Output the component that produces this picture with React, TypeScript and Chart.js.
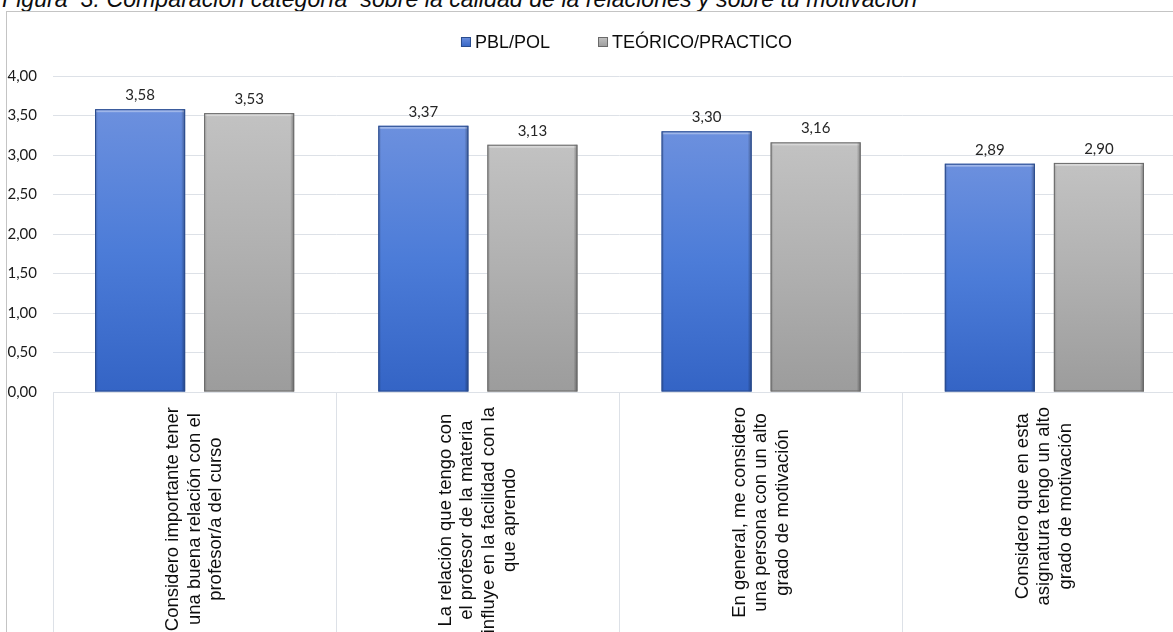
import React, { useEffect, useRef } from 'react';
import { Chart, registerables } from 'chart.js';

Chart.register(...registerables);

// ---------- data ----------
const TITLE = 'Figura  3. Comparación categoría  sobre la calidad de la relaciones y sobre tu motivación';

const categories: string[][] = [
  ['Considero importante tener', 'una buena relación con el', 'profesor/a del curso'],
  ['La relación que tengo con', 'el profesor de la materia', 'influye en la facilidad con la', 'que aprendo'],
  ['En general, me considero', 'una persona con un alto', 'grado de motivación'],
  ['Considero que en esta', 'asignatura tengo un alto', 'grado de motivación'],
];

const seriesNames = ['PBL/POL', 'TEÓRICO/PRACTICO'];
const pblValues = [3.58, 3.37, 3.3, 2.89];
const teoricoValues = [3.53, 3.13, 3.16, 2.9];
const yTickValues = [0, 0.5, 1, 1.5, 2, 2.5, 3, 3.5, 4];

// ---------- styles ----------
const BLUE_STOPS = ['#6c90de', '#4c7cd8', '#3464c5'];
const BLUE_EDGE = '#2a4c8e';
const GRAY_STOPS = ['#c2c2c2', '#b0b0b0', '#9c9c9c'];
const GRAY_EDGE = '#6a6a6a';
const GRID = '#dde1e7';
const NUM_FONT = 'Lato, "Liberation Sans", sans-serif';
const TXT_FONT = '"Liberation Sans", Arial, sans-serif';

const fmt = (v: number) => v.toFixed(2).replace('.', ',');

function barGradient(stops: string[]) {
  return (ctx: any) => {
    const chart = ctx.chart;
    const ys = chart.scales && chart.scales.y;
    if (!ys || ctx.type !== 'data' || !ctx.parsed) return stops[1];
    const top = ys.getPixelForValue(ctx.parsed.y);
    const base = ys.getPixelForValue(0);
    if (!isFinite(top) || !isFinite(base) || Math.abs(top - base) < 1) return stops[1];
    const g = chart.ctx.createLinearGradient(0, top, 0, base);
    g.addColorStop(0, stops[0]);
    g.addColorStop(0.5, stops[1]);
    g.addColorStop(1, stops[2]);
    return g;
  };
}

const bevelPlugin = {
  id: 'bevel',
  afterDatasetsDraw(chart: any) {
    const c = chart.ctx;
    chart.data.datasets.forEach((ds: any, di: number) => {
      const meta = chart.getDatasetMeta(di);
      const edge = di === 0 ? BLUE_EDGE : GRAY_EDGE;
      meta.data.forEach((el: any) => {
        const { x, y, base, width } = el.getProps(['x', 'y', 'base', 'width'], true);
        const l = x - width / 2;
        const r = x + width / 2;
        c.save();
        c.fillStyle = 'rgba(255,255,255,0.35)';
        c.fillRect(l + 1, y + 1, width - 2, 2);
        const gr = c.createLinearGradient(r - 4, 0, r, 0);
        gr.addColorStop(0, 'rgba(0,0,0,0)');
        gr.addColorStop(1, 'rgba(0,0,0,0.35)');
        c.fillStyle = gr;
        c.fillRect(r - 4, y, 4, base - y);
        const gl = c.createLinearGradient(l, 0, l + 3, 0);
        gl.addColorStop(0, 'rgba(0,0,0,0.2)');
        gl.addColorStop(1, 'rgba(0,0,0,0)');
        c.fillStyle = gl;
        c.fillRect(l, y, 3, base - y);
        c.strokeStyle = edge;
        c.lineWidth = 1;
        c.strokeRect(l + 0.5, y + 0.5, width - 1, base - y - 1);
        c.restore();
      });
    });
  },
};

const dataLabelPlugin = {
  id: 'valueLabels',
  afterDatasetsDraw(chart: any) {
    const c = chart.ctx;
    c.save();
    c.font = `15px ${NUM_FONT}`;
    c.fillStyle = '#262626';
    c.textAlign = 'center';
    c.textBaseline = 'alphabetic';
    chart.data.datasets.forEach((ds: any, di: number) => {
      const meta = chart.getDatasetMeta(di);
      meta.data.forEach((el: any, i: number) => {
        c.fillText(fmt(ds.data[i]), el.x, el.y - 9);
      });
    });
    c.restore();
  },
};

const categoryLabelPlugin = {
  id: 'categoryLabels',
  afterDraw(chart: any) {
    const c = chart.ctx;
    const xs = chart.scales.x;
    const bottom = chart.chartArea.bottom;
    const lh = 21.5;
    c.save();
    c.font = `18.5px ${TXT_FONT}`;
    c.fillStyle = '#0d0d0d';
    c.textAlign = 'center';
    c.textBaseline = 'middle';
    categories.forEach((lines, i) => {
      const cx = xs.getPixelForTick(i);
      const maxW = Math.max(...lines.map((t) => c.measureText(t).width));
      const cy = bottom + 15 + maxW / 2;
      c.save();
      c.translate(cx, cy);
      c.rotate(-Math.PI / 2);
      lines.forEach((t, li) => {
        c.fillText(t, 0, (li - (lines.length - 1) / 2) * lh);
      });
      c.restore();
    });
    c.restore();
  },
};

const legendPlugin = {
  id: 'excelLegend',
  afterDraw(chart: any) {
    const c = chart.ctx;
    c.save();
    c.font = `18px ${TXT_FONT}`;
    c.textBaseline = 'middle';
    c.textAlign = 'left';
    const box = 10;
    const gapText = 4;
    const gapItem = 48;
    const widths = seriesNames.map((n) => box + gapText + c.measureText(n).width);
    const total = widths.reduce((a, b) => a + b, 0) + gapItem * (seriesNames.length - 1);
    const ca = chart.chartArea;
    let x = (ca.left + ca.right) / 2 + 7 - total / 2;
    const cy = 42;
    seriesNames.forEach((n, i) => {
      const stops = i === 0 ? BLUE_STOPS : GRAY_STOPS;
      const g = c.createLinearGradient(0, cy - box / 2, 0, cy + box / 2);
      g.addColorStop(0, stops[0]);
      g.addColorStop(1, stops[2]);
      c.fillStyle = g;
      c.fillRect(x, cy - box / 2, box, box);
      c.strokeStyle = i === 0 ? BLUE_EDGE : GRAY_EDGE;
      c.lineWidth = 1;
      c.strokeRect(x + 0.5, cy - box / 2 + 0.5, box - 1, box - 1);
      c.fillStyle = '#0d0d0d';
      c.fillText(n, x + box + gapText, cy + 1);
      x += widths[i] + gapItem;
    });
    c.restore();
  },
};

function BarChart() {
  const ref = useRef<HTMLCanvasElement | null>(null);
  useEffect(() => {
    if (!ref.current) return;
    const chart = new Chart(ref.current, {
      type: 'bar',
      data: {
        labels: categories.map((l) => l.join(' ')),
        datasets: [
          {
            label: seriesNames[0],
            data: pblValues,
            backgroundColor: barGradient(BLUE_STOPS),
            borderWidth: 0,
            categoryPercentage: 0.77,
            barPercentage: 0.826,
          },
          {
            label: seriesNames[1],
            data: teoricoValues,
            backgroundColor: barGradient(GRAY_STOPS),
            borderWidth: 0,
            categoryPercentage: 0.77,
            barPercentage: 0.826,
          },
        ],
      },
      options: {
        responsive: false,
        animation: false,
        devicePixelRatio: 1,
        layout: { padding: { left: 0, right: 4, top: 76, bottom: 0 } },
        plugins: {
          legend: { display: false },
          title: { display: false },
          tooltip: { enabled: false },
        },
        scales: {
          x: {
            type: 'category',
            offset: true,
            grid: {
              display: true,
              offset: true,
              drawOnChartArea: false,
              drawTicks: true,
              tickLength: 240,
              color: GRID,
              lineWidth: 1,
            },
            border: { display: false },
            ticks: { display: false },
            afterFit: (s: any) => {
              s.height = 240;
            },
          },
          y: {
            min: 0,
            max: 4,
            afterBuildTicks: (s: any) => {
              s.ticks = yTickValues.map((v) => ({ value: v }));
            },
            ticks: {
              padding: 16,
              color: '#1a1a1a',
              font: { family: NUM_FONT, size: 15 },
              callback: (v: any) => fmt(Number(v)),
            },
            grid: { color: GRID, drawTicks: false, lineWidth: 1 },
            border: { display: false },
            afterFit: (s: any) => {
              s.width = 53;
            },
          },
        },
      },
      plugins: [bevelPlugin, dataLabelPlugin, categoryLabelPlugin, legendPlugin],
    });
    return () => chart.destroy();
  }, []);
  return (
    <canvas
      ref={ref}
      width={1190}
      height={632}
      style={{ position: 'absolute', left: 0, top: 0, width: 1190, height: 632 }}
    />
  );
}

export default function App() {
  return (
    <div
      style={{
        position: 'fixed',
        left: 0,
        top: 0,
        width: 1173,
        height: 632,
        overflow: 'hidden',
        background: '#ffffff',
      }}
    >
      <div
        style={{
          position: 'absolute',
          left: 2,
          top: -13,
          font: `italic 23.2px ${TXT_FONT}`,
          lineHeight: '24px',
          whiteSpace: 'pre',
          color: '#0d0d0d',
        }}
      >
        {TITLE}
      </div>
      <div
        style={{
          position: 'absolute',
          left: 6,
          top: 11,
          width: 1400,
          height: 1000,
          border: '1px solid #c4c4c4',
          boxSizing: 'border-box',
        }}
      />
      <BarChart />
    </div>
  );
}
